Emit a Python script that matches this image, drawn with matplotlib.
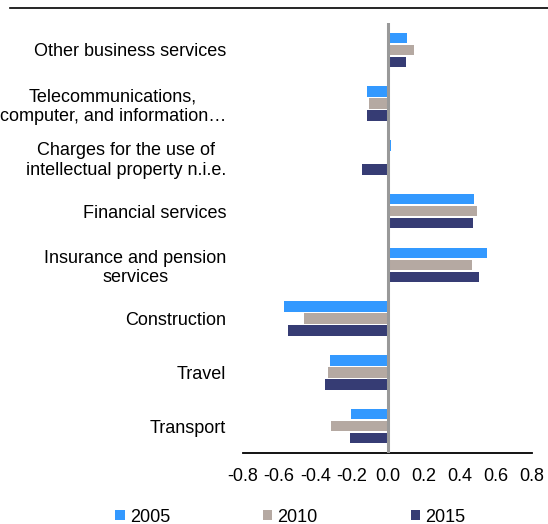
import matplotlib.pyplot as plt
from matplotlib.patches import Patch
from matplotlib.lines import Line2D
import numpy as np

plt.rcParams['font.family'] = ['Liberation Sans', 'DejaVu Sans']

categories = ['Other business services',
              'Telecommunications,\ncomputer, and information\u2026',
              'Charges for the use of\nintellectual property n.i.e.',
              'Financial services',
              'Insurance and pension\nservices',
              'Construction',
              'Travel',
              'Transport']
years = ['2005', '2010', '2015']
vals_2005 = [0.107, -0.116, 0.022, 0.480, 0.550, -0.573, -0.320, -0.203]
vals_2010 = [0.144, -0.103, 0.0, 0.498, 0.470, -0.465, -0.329, -0.314]
vals_2015 = [0.100, -0.115, -0.140, 0.474, 0.509, -0.552, -0.345, -0.207]
xticks = [-0.8, -0.6, -0.4, -0.2, 0.0, 0.2, 0.4, 0.6, 0.8]
colors = ['#3399FF', '#B5A9A2', '#363C74']

fig = plt.figure(figsize=(5.48, 5.24), dpi=100)
ax = fig.add_axes([243/548, 1 - 453/524, 289/548, 430/524])

y = np.arange(len(categories))
step = 0.223
for i, (vals, c) in enumerate(zip([vals_2005, vals_2010, vals_2015], colors)):
    ax.barh(y + (i - 1) * step, vals, height=0.195, color=c, label=years[i])

ax.set_ylim(len(categories) - 0.5, -0.5)
ax.set_xlim(-0.8, 0.8)
ax.set_xticks(xticks)
ax.set_xticklabels([f'{v:.1f}' for v in xticks], fontsize=13)
ax.set_yticks(y)
ax.set_yticklabels(categories, fontsize=13, multialignment='center')
ax.tick_params(axis='y', length=0, pad=12)
ax.tick_params(axis='x', length=0, pad=11)
for s in ['left', 'right', 'top']:
    ax.spines[s].set_visible(False)
ax.spines['bottom'].set_linewidth(1.3)
ax.axvline(0, color='#999999', lw=2.2, zorder=3)

# title rule at the top
fig.add_artist(Line2D([10/548, 1], [1 - 8/524, 1 - 8/524], color='black', lw=1.2))

handles = [Patch(facecolor=c) for c in colors]
fig.legend(handles, years, loc='center', bbox_to_anchor=(0.53, 1 - 517/524), ncol=3,
           frameon=False, fontsize=13, handlelength=0.5, handleheight=0.5,
           handletextpad=0.3, columnspacing=5.15)

fig.savefig('out.png', dpi=100)
